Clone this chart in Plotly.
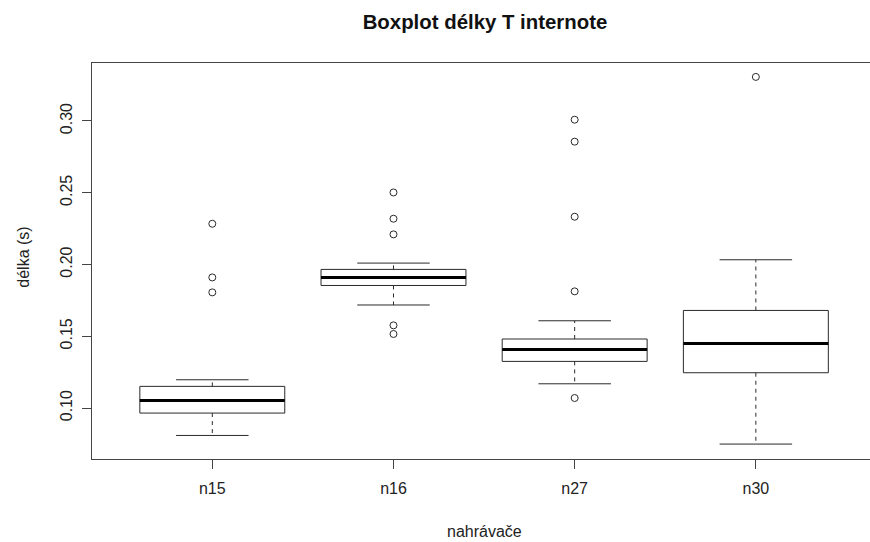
import plotly.graph_objects as go

# ---- data ----
categories = ["n15", "n16", "n27", "n30"]
whisker_low = [0.0809, 0.1718, 0.1169, 0.0749]
q1 = [0.0965, 0.1854, 0.1325, 0.1246]
median = [0.1053, 0.1910, 0.1408, 0.1450]
q3 = [0.1151, 0.1966, 0.1481, 0.1680]
whisker_high = [0.1197, 0.2010, 0.1608, 0.2033]
outliers_n15 = [0.2284, 0.1910, 0.1806]
outliers_n16 = [0.2502, 0.2319, 0.2210, 0.1576, 0.1516]
outliers_n27 = [0.3009, 0.2856, 0.2333, 0.1813, 0.1070]
outliers_n30 = [0.3307]
outliers = [outliers_n15, outliers_n16, outliers_n27, outliers_n30]
y_ticks = [0.10, 0.15, 0.20, 0.25, 0.30]

# ---- style ----
BOX_HALF = 0.4
CAP_HALF = 0.2
LINE = "#2a2a2a"
FRAME = "#444444"
FONT = "Liberation Sans, Arial, sans-serif"

box_x, box_y = [], []
med_x, med_y = [], []
wh_x, wh_y = [], []
cap_x, cap_y = [], []
out_x, out_y = [], []
for i in range(len(categories)):
    box_x += [i - BOX_HALF, i + BOX_HALF, i + BOX_HALF, i - BOX_HALF, i - BOX_HALF, None]
    box_y += [q1[i], q1[i], q3[i], q3[i], q1[i], None]
    med_x += [i - BOX_HALF, i + BOX_HALF, None]
    med_y += [median[i], median[i], None]
    wh_x += [i, i, None, i, i, None]
    wh_y += [q3[i], whisker_high[i], None, q1[i], whisker_low[i], None]
    cap_x += [i - CAP_HALF, i + CAP_HALF, None, i - CAP_HALF, i + CAP_HALF, None]
    cap_y += [whisker_high[i], whisker_high[i], None, whisker_low[i], whisker_low[i], None]
    out_x += [i] * len(outliers[i])
    out_y += outliers[i]

fig = go.Figure()
fig.add_trace(go.Scatter(x=wh_x, y=wh_y, mode="lines",
                         line=dict(color=LINE, width=1, dash="4px,4px"), hoverinfo="skip"))
fig.add_trace(go.Scatter(x=cap_x, y=cap_y, mode="lines",
                         line=dict(color=LINE, width=1), hoverinfo="skip"))
fig.add_trace(go.Scatter(x=box_x, y=box_y, mode="lines",
                         line=dict(color=LINE, width=1), hoverinfo="skip"))
fig.add_trace(go.Scatter(x=med_x, y=med_y, mode="lines",
                         line=dict(color="#000000", width=3), hoverinfo="skip"))
fig.add_trace(go.Scatter(x=out_x, y=out_y, mode="markers",
                         marker=dict(symbol="circle-open", size=7, color=LINE,
                                     line=dict(width=1, color=LINE))))

fig.update_layout(
    width=870, height=542,
    margin=dict(l=92, r=0, t=63, b=83),
    paper_bgcolor="white", plot_bgcolor="white",
    showlegend=False,
    font=dict(family=FONT, size=16, color="#222"),
    title=dict(text="<b>Boxplot délky T internote</b>",
               font=dict(family=FONT, size=20.4, color="#111"),
               x=485 / 870, xref="container", xanchor="center",
               y=1 - 22 / 542, yref="container", yanchor="middle"),
    xaxis=dict(range=[-0.664, 3.630], tickmode="array",
               tickvals=list(range(len(categories))), ticktext=categories,
               showgrid=False, zeroline=False,
               showline=True, linecolor=FRAME, linewidth=1, mirror=True,
               ticks="outside", ticklen=9, tickcolor=FRAME, tickwidth=1,
               ticklabelstandoff=6),
    yaxis=dict(range=[0.0645, 0.3404], tickmode="array", tickvals=y_ticks,
               ticktext=[f"{v:.2f}" for v in y_ticks],
               tickangle=-90,
               showgrid=False, zeroline=False,
               showline=True, linecolor=FRAME, linewidth=1, mirror=False,
               ticks="outside", ticklen=9, tickcolor=FRAME, tickwidth=1,
               ticklabelstandoff=4),
    annotations=[
        dict(text="nahrávače", xref="paper", yref="paper",
             x=(484.5 - 92) / 778, y=(459.3 - 531.7) / 396,
             xanchor="center", yanchor="middle", showarrow=False,
             font=dict(family=FONT, size=16, color="#222")),
        dict(text="délka (s)", xref="paper", yref="paper",
             x=(24 - 92) / 778, y=(459.3 - 258) / 396,
             xanchor="center", yanchor="middle", showarrow=False, textangle=-90,
             font=dict(family=FONT, size=16, color="#222")),
    ],
)

fig.write_html("out.html")
